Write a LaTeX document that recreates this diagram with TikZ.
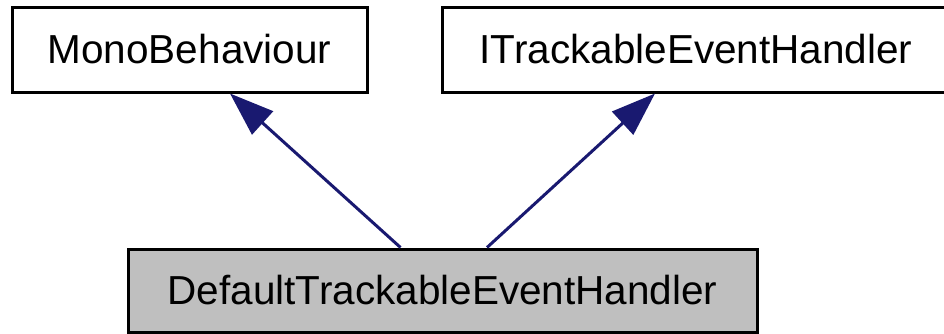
\documentclass[tikz,border=0pt]{standalone}
\usepackage{fontspec}
\setmainfont{Liberation Sans}
\usetikzlibrary{arrows.meta}
\definecolor{edgeblue}{HTML}{191970}
\definecolor{boxgray}{HTML}{BFBFBF}
\tikzset{
  classbox/.style={draw=black, line width=3pt, fill=white, inner sep=0pt,
    font=\fontsize{40.5}{48}\selectfont, minimum height=85pt},
  inherit/.style={draw=edgeblue, line width=3pt,
    -{Triangle[length=44pt,width=31pt]}}
}
\begin{document}
\begin{tikzpicture}[x=1pt,y=1pt]
  \useasboundingbox (0,0) rectangle (944,-333);
  \node[classbox, minimum width=355pt] (mono) at (189.5,-49.5) {MonoBehaviour};
  \node[classbox, minimum width=508pt] (itr) at (696,-49.5) {ITrackableEventHandler};
  \node[classbox, fill=boxgray, minimum width=629pt, minimum height=83pt] (dteh) at (442.5,-290.5) {DefaultTrackableEventHandler};
  \draw[inherit] ([xshift=-42pt]dteh.north) -- ([xshift=40.5pt]mono.south);
  \draw[inherit] ([xshift=44.5pt]dteh.north) -- ([xshift=-41pt]itr.south);
\end{tikzpicture}
\end{document}
